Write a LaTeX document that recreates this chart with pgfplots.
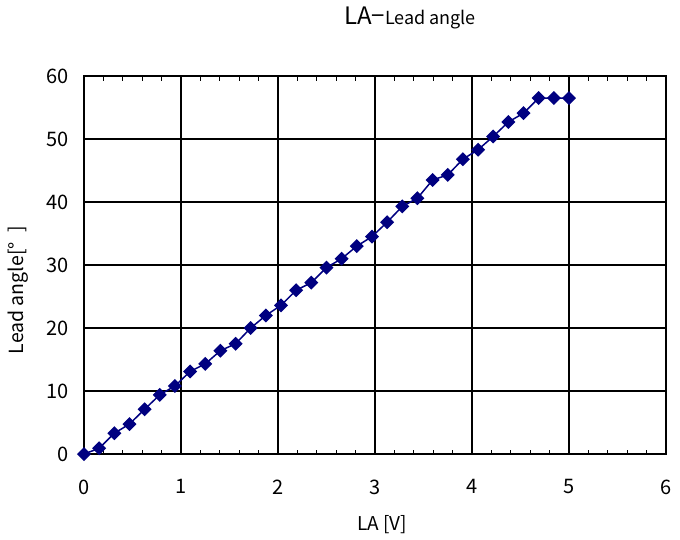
\documentclass[border=0pt]{standalone}
\usepackage{pgfplots}
\pgfplotsset{compat=1.18}
\usepackage{fontspec}
\setmainfont{Noto Sans CJK JP}
\definecolor{navyc}{RGB}{0,0,128}
\begin{document}
\begin{tikzpicture}[x=1pt,y=1pt]
\path[use as bounding box] (-84,-85) rectangle (596,454);
\begin{axis}[
  at={(0,0)}, anchor=south west,
  scale only axis, width=582pt, height=378pt,
  xmin=0, xmax=6, ymin=0, ymax=60,
  xtick={0,1,2,3,4,5,6},
  ytick={0,10,20,30,40,50,60},
  minor x tick num=4,
  grid=major,
  major grid style={black, line width=1.3pt},
  axis line style={black, line width=1.3pt},
  tick align=inside,
  major tick length=0pt,
  minor tick length=4.5pt,
  minor tick style={black, line width=1.2pt},
  ytick style={draw=none},
  /pgf/number format/assume math mode=true,
  tick label style={font=\fontsize{20}{22}\selectfont},
  xticklabel style={yshift=-22pt},
  yticklabel style={xshift=-12pt},
  clip=false,
]
\addplot[navyc, line width=1.5pt, mark=square*, mark size=4.2pt, mark options={solid, fill=navyc, draw=navyc, rotate=45}] coordinates {
(0,0) (0.15625,0.9) (0.3125,3.3) (0.46875,4.75) (0.625,7.1) (0.78125,9.4)
(0.9375,10.8) (1.09375,13.1) (1.25,14.3) (1.40625,16.4) (1.5625,17.5)
(1.71875,20.0) (1.875,22.0) (2.03125,23.6) (2.1875,26.0) (2.34375,27.2)
(2.5,29.6) (2.65625,31.0) (2.8125,33.0) (2.96875,34.5) (3.125,36.8)
(3.28125,39.3) (3.4375,40.6) (3.59375,43.5) (3.75,44.3) (3.90625,46.8)
(4.0625,48.3) (4.21875,50.4) (4.375,52.7) (4.53125,54.1) (4.6875,56.5)
(4.84375,56.5) (5.0,56.5)
};
\end{axis}
\node at (298,-71) {\fontsize{19}{21}\selectfont LA [V]};
\node[rotate=90] at (-66,164) {\fontsize{19.5}{21}\selectfont Lead angle[°\,\,\,]};
\node at (326,436) {\fontsize{24}{26}\selectfont LA−\fontsize{18}{20}\selectfont Lead angle};
\end{tikzpicture}
\end{document}
